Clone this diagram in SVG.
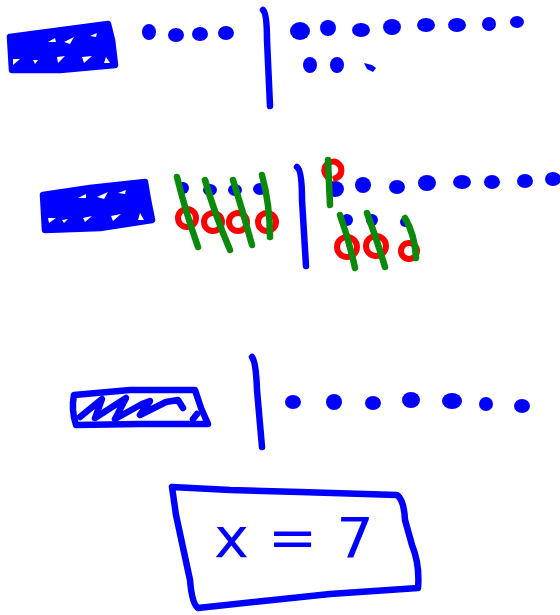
<svg xmlns="http://www.w3.org/2000/svg" width="560" height="615" viewBox="0 0 560 615">
<style>
.b{stroke:#0000ff;fill:none;stroke-width:6.5;stroke-linecap:round;stroke-linejoin:round}
.bf{fill:#0000ff}
.r{stroke:#ff0000;fill:none;stroke-width:6}
.g{stroke:#0a8a0a;fill:none;stroke-width:6.5;stroke-linecap:round}
.w{fill:#ffffff}
</style>
<rect width="560" height="615" fill="#ffffff"/>
<g id="row1">
  <path class="b bf" d="M10,37 L40,33 L108,24 L112,40 L115,65 L60,70 L12,70 Z"/>
  <path class="w" d="M13,59 L20,59 L13,65 Z M33,60 L38,60 L35,64 Z M57,57 L65,56 L58,63 Z M82,57 L92,56 L84,63 Z M106,57 L110,63 L104,63 Z M48,42 L55,38 L56,42 Z M64,42 L74,37 L70,44 Z M90,36 L97,33 L96,37 Z"/>
  <g class="bf">
    <ellipse cx="149" cy="32" rx="7" ry="8"/>
    <ellipse cx="176" cy="35" rx="8" ry="7"/>
    <ellipse cx="200" cy="34" rx="8" ry="7"/>
    <ellipse cx="226" cy="33" rx="8" ry="7"/>
  </g>
  <path class="b" d="M263,10 Q267,14 267,40 L270,106"/>
  <g class="bf">
    <ellipse cx="300" cy="31" rx="10" ry="9"/>
    <ellipse cx="328" cy="28" rx="8" ry="8"/>
    <ellipse cx="361" cy="30" rx="9" ry="7"/>
    <ellipse cx="392" cy="27" rx="9" ry="8"/>
    <ellipse cx="426" cy="25" rx="9" ry="7"/>
    <ellipse cx="457" cy="25" rx="9" ry="7"/>
    <ellipse cx="489" cy="24" rx="7" ry="7"/>
    <ellipse cx="517" cy="22" rx="7" ry="6"/>
    <ellipse cx="310" cy="65" rx="7" ry="8"/>
    <ellipse cx="337" cy="65" rx="7" ry="8"/>
    <path d="M364,63 L372,65 L376,68 L373,72 L367,69 Z"/>
  </g>
</g>
<g id="row2">
  <path class="b bf" d="M43,195 L90,188 L145,182 L148,200 L152,220 L100,228 L45,230 Z"/>
  <path class="w" d="M48,218 L56,218 L49,223 Z M62,220 L68,219 L64,223 Z M83,218 L92,216 L85,222 Z M111,216 L121,214 L113,221 Z M140,213 L144,220 L138,220 Z M78,198 L86,194 L86,198 Z M97,197 L108,192 L104,199 Z M118,193 L126,190 L125,194 Z"/>
  <g class="bf">
    <ellipse cx="183" cy="188" rx="6" ry="6"/>
    <ellipse cx="210" cy="190" rx="7" ry="6"/>
    <ellipse cx="235" cy="190" rx="7" ry="6"/>
    <ellipse cx="260" cy="189" rx="7" ry="6"/>
  </g>
  <g class="r">
    <circle cx="187" cy="218" r="9"/>
    <circle cx="213" cy="222" r="9"/>
    <circle cx="238" cy="222" r="9"/>
    <circle cx="267" cy="222" r="9"/>
  </g>
  <g class="g">
    <path d="M177,177 Q185,210 198,247"/>
    <path d="M205,180 Q215,215 230,250"/>
    <path d="M233,180 Q243,212 252,245"/>
    <path d="M262,175 Q270,205 270,237"/>
  </g>
  <path class="b" d="M297,167 Q302,170 302,200 L306,266"/>
  <g class="bf">
    <ellipse cx="335" cy="189" rx="9" ry="8"/>
    <ellipse cx="363" cy="185" rx="8" ry="8"/>
    <ellipse cx="397" cy="187" rx="8" ry="7"/>
    <ellipse cx="427" cy="183" rx="9" ry="8"/>
    <ellipse cx="462" cy="182" rx="9" ry="7"/>
    <ellipse cx="492" cy="182" rx="8" ry="7"/>
    <ellipse cx="525" cy="181" rx="8" ry="7"/>
    <ellipse cx="553" cy="179" rx="8" ry="7"/>
    <ellipse cx="347" cy="220" rx="6" ry="6"/>
    <ellipse cx="372" cy="220" rx="6" ry="6"/>
    <ellipse cx="405" cy="222" rx="5" ry="5"/>
  </g>
  <g class="r">
    <path d="M331,180 Q320,172 327,164 Q336,158 341,167 Q343,177 333,179"/>
    <circle cx="347" cy="247" r="10"/>
    <circle cx="376" cy="246" r="10"/>
    <circle cx="409" cy="251" r="8"/>
  </g>
  <g class="g">
    <path d="M328,160 L330,205"/>
    <path d="M340,215 Q349,240 355,268"/>
    <path d="M367,213 Q377,240 385,267"/>
    <path d="M405,218 Q415,235 416,258"/>
  </g>
</g>
<g id="row3">
  <path class="b" d="M74,395 L130,390 L195,390 L201,408 L208,424 L140,424 L76,425 Q71,410 74,395 Z"/>
  <path class="b" d="M80,417 L102,399 L95,418 L126,398 L115,419 L142,404 L150,401 L140,415 L166,402 L178,400 L183,408 M193,419 L197,414"/>
  <path class="b" d="M252,357 Q256,362 257,390 L262,447"/>
  <g class="bf">
    <ellipse cx="293" cy="402" rx="8" ry="7"/>
    <ellipse cx="334" cy="402" rx="8" ry="8"/>
    <ellipse cx="373" cy="403" rx="8" ry="7"/>
    <ellipse cx="411" cy="400" rx="9" ry="8"/>
    <ellipse cx="452" cy="401" rx="10" ry="8"/>
    <ellipse cx="486" cy="404" rx="7" ry="7"/>
    <ellipse cx="522" cy="406" rx="8" ry="7"/>
  </g>
</g>
<g id="answer">
  <path class="b" d="M172,487 L230,490 L300,492 L397,495 Q404,500 405,520 L412,545 Q420,565 418,588 L330,594 L198,608 Q192,604 190,580 L176,515 Z"/>
  <text x="214" y="557" font-family="DejaVu Sans, sans-serif" font-size="56" fill="#0000ff" textLength="160" lengthAdjust="spacingAndGlyphs">x = 7</text>
</g>
</svg>
